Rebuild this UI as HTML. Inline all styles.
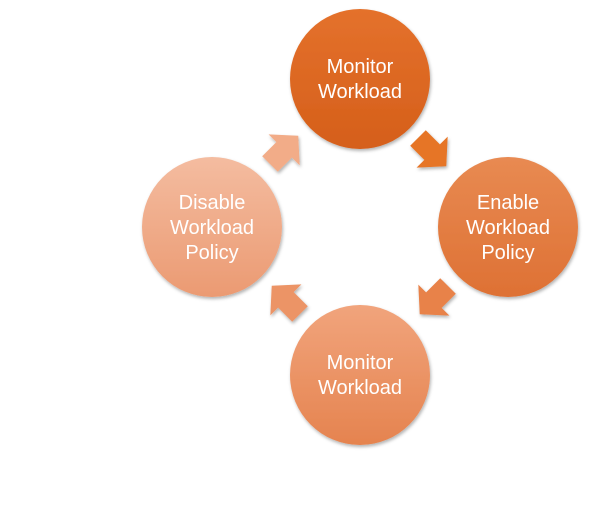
<!DOCTYPE html>
<html><head><meta charset="utf-8"><style>
body{margin:0;background:#fff;width:596px;height:512px;overflow:hidden}
svg{display:block}
text{font-family:"Liberation Sans",sans-serif;font-size:20px;fill:#fff;text-anchor:middle}
</style></head><body>
<svg width="596" height="512">
<defs>
<linearGradient id="g1" x1="0" y1="0" x2="0" y2="1"><stop offset="0" stop-color="#e4712c"/><stop offset="1" stop-color="#d55f1a"/></linearGradient>
<linearGradient id="g2" x1="0" y1="0" x2="0" y2="1"><stop offset="0" stop-color="#e88a52"/><stop offset="1" stop-color="#de7134"/></linearGradient>
<linearGradient id="g3" x1="0" y1="0" x2="0" y2="1"><stop offset="0" stop-color="#f1a47c"/><stop offset="1" stop-color="#e5834f"/></linearGradient>
<linearGradient id="g4" x1="0" y1="0" x2="0" y2="1"><stop offset="0" stop-color="#f4bca0"/><stop offset="1" stop-color="#eb9a72"/></linearGradient>
<filter id="sh"><feDropShadow dx="1" dy="2" stdDeviation="1.5" flood-opacity="0.3"/></filter>
<polygon id="arr" points="-17,-11 3,-11 3,-22 23,0 3,22 3,11 -17,11"/>
</defs>
<g filter="url(#sh)">
<circle cx="360" cy="79" r="70" fill="url(#g1)"/>
<circle cx="508" cy="227" r="70" fill="url(#g2)"/>
<circle cx="360" cy="375" r="70" fill="url(#g3)"/>
<circle cx="212" cy="227" r="70" fill="url(#g4)"/>
<use href="#arr" transform="translate(430,150) rotate(45)" fill="#e67428"/>
<use href="#arr" transform="translate(436,298) rotate(135)" fill="#e8824a"/>
<use href="#arr" transform="translate(288,302) rotate(-135)" fill="#ec9466"/>
<use href="#arr" transform="translate(282,152) rotate(-45)" fill="#f2ac88"/>
</g>
<text x="360" y="73">Monitor<tspan x="360" dy="25">Workload</tspan></text>
<text x="508" y="209">Enable<tspan x="508" dy="25">Workload</tspan><tspan x="508" dy="25">Policy</tspan></text>
<text x="360" y="369">Monitor<tspan x="360" dy="25">Workload</tspan></text>
<text x="212" y="209">Disable<tspan x="212" dy="25">Workload</tspan><tspan x="212" dy="25">Policy</tspan></text>
</svg>
</body></html>
